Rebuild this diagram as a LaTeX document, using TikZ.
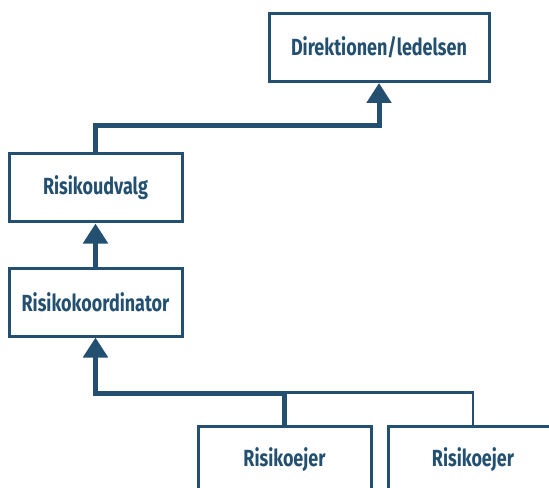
\documentclass[tikz,border=0pt]{standalone}
\usepackage{fontspec}
\setmainfont{Fira Sans}[FakeStretch=0.77]
\usetikzlibrary{arrows.meta}
\definecolor{navy}{RGB}{35,80,112}
\begin{document}
\begin{tikzpicture}[x=0.75pt,y=-0.75pt,
  box/.style={draw=navy,line width=2.25pt,fill=white,inner sep=0pt,
    font=\fontsize{17.5pt}{20pt}\selectfont\bfseries,text=navy},
  flow/.style={draw=navy,line width=3.75pt,
    -{Triangle[width=18pt,length=15pt]}},
  branch/.style={draw=navy,line width=1.9pt}]
\useasboundingbox (0,0) rectangle (549,488);
\clip (0,0) rectangle (549,488);
% boxes
\node[box,minimum width=220*0.75pt,minimum height=68*0.75pt] (dir) at (379,47.5) {Direktionen/ledelsen};
\node[box,minimum width=173*0.75pt,minimum height=68*0.75pt] (udv) at (95.5,188) {Risikoudvalg};
\node[box,minimum width=173*0.75pt,minimum height=68*0.75pt] (koord) at (95.5,302) {Risikokoordinator};
\node[box,minimum width=173*0.75pt,minimum height=68*0.75pt] (ej1) at (284.5,460) {Risikoejer};
\node[box,minimum width=170*0.75pt,minimum height=68*0.75pt] (ej2) at (473,460) {Risikoejer};
% connectors
\draw[branch] (ej1.north) ++(0,-32) -| (ej2.north);
\draw[flow] (ej1.north) -- ++(0,-31) -| (koord.south);
\draw[flow] (koord.north) -- (udv.south);
\draw[flow] (udv.north) -- ++(0,-27) -| (dir.south);
\end{tikzpicture}
\end{document}
